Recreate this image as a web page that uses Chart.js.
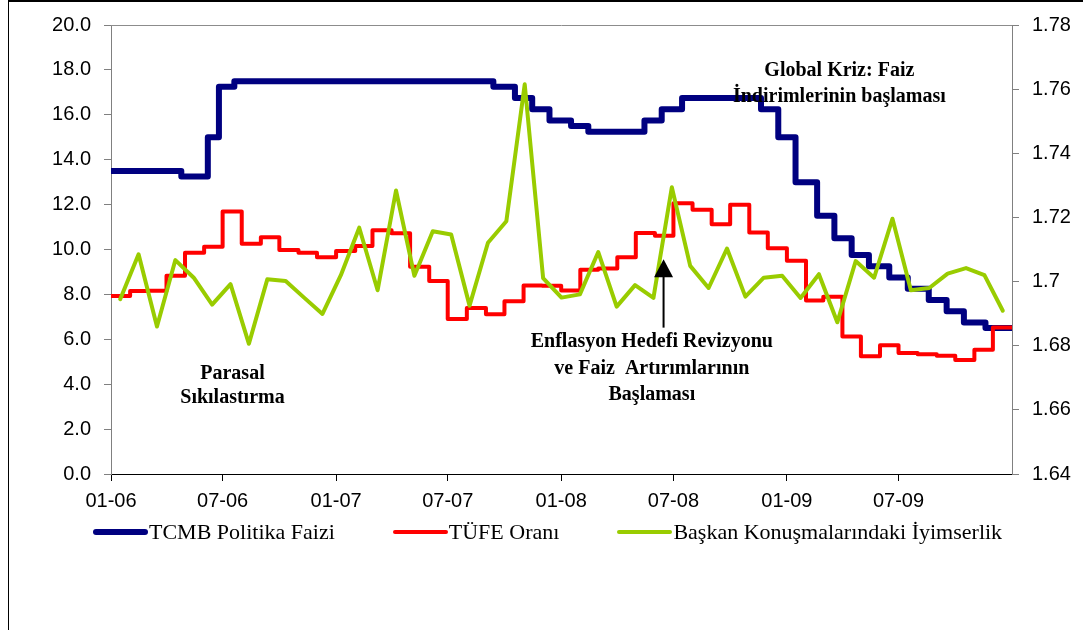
<!DOCTYPE html>
<html>
<head>
<meta charset="utf-8">
<script src="https://cdn.jsdelivr.net/npm/chart.js@4.4.1/dist/chart.umd.min.js"></script>
<style>
  html, body { margin: 0; padding: 0; background: #fff; }
  #wrap { position: relative; width: 1083px; height: 630px; overflow: hidden; }
  #chart { position: absolute; left: 0; top: 0; }
  #frame { position: absolute; left: 8px; top: 0; width: 1075px; height: 630px; box-sizing: border-box;
           border-top: 2px solid #000; border-left: 1px solid #000; pointer-events: none; }
  #legend { position: absolute; left: 93px; top: 519px; display: flex; gap: 58px;
            font-family: "Liberation Serif", "Times New Roman", serif; font-size: 22px; color: #000; }
  .item { display: flex; align-items: center; white-space: nowrap; }
  .swatch { width: 55px; border-radius: 3px; margin-right: 1px; }
</style>
</head>
<body>
<div id="wrap">
  <canvas id="chart" width="1083" height="630"></canvas>
  <div id="legend"></div>
  <div id="frame"></div>
</div>
<script>
// x ekseni gün cinsinden (2006-01-01'den itibaren)
const START = Date.UTC(2006, 0, 1);
const dayOf = d => (Date.parse(d) - START) / 86400000;

const axisEnd = "2010-01-01";
const tickDates = ["2006-01-01", "2006-07-01", "2007-01-01", "2007-07-01",
                   "2008-01-01", "2008-07-01", "2009-01-01", "2009-07-01"];
const tickLabels = ["01-06", "07-06", "01-07", "07-07", "01-08", "07-08", "01-09", "07-09"];

// TCMB politika faizi (karar tarihleri)
const policyDates = ["2006-01-01", "2006-04-25", "2006-06-07", "2006-06-25", "2006-07-20",
  "2007-09-13", "2007-10-18", "2007-11-15", "2007-12-13", "2008-01-17", "2008-02-14",
  "2008-05-15", "2008-06-12", "2008-07-15", "2008-11-20", "2008-12-18", "2009-01-15",
  "2009-02-19", "2009-03-19", "2009-04-16", "2009-05-14", "2009-06-16", "2009-07-16",
  "2009-08-19", "2009-09-17", "2009-10-15", "2009-11-19"];
const policyRates = [13.5, 13.25, 15.0, 17.25, 17.5, 17.25, 16.75, 16.25, 15.75, 15.5, 15.25,
  15.75, 16.25, 16.75, 16.25, 15.0, 13.0, 11.5, 10.5, 9.75, 9.25, 8.75, 8.25, 7.75, 7.25, 6.75, 6.5];

// TÜFE yıllık oran (aylık)
const cpiMonths = [
  "2006-01", "2006-02", "2006-03", "2006-04", "2006-05", "2006-06", "2006-07", "2006-08", "2006-09", "2006-10", "2006-11", "2006-12",
  "2007-01", "2007-02", "2007-03", "2007-04", "2007-05", "2007-06", "2007-07", "2007-08", "2007-09", "2007-10", "2007-11", "2007-12",
  "2008-01", "2008-02", "2008-03", "2008-04", "2008-05", "2008-06", "2008-07", "2008-08", "2008-09", "2008-10", "2008-11", "2008-12",
  "2009-01", "2009-02", "2009-03", "2009-04", "2009-05", "2009-06", "2009-07", "2009-08", "2009-09", "2009-10", "2009-11", "2009-12"];
const cpiRates = [
  7.93, 8.15, 8.16, 8.83, 9.86, 10.12, 11.69, 10.26, 10.55, 9.98, 9.86, 9.65,
  9.93, 10.16, 10.86, 10.72, 9.23, 8.60, 6.90, 7.39, 7.12, 7.70, 8.40, 8.39,
  8.17, 9.10, 9.15, 9.66, 10.74, 10.61, 12.06, 11.77, 11.13, 11.99, 10.76, 10.06,
  9.50, 7.73, 7.89, 6.13, 5.24, 5.73, 5.39, 5.33, 5.27, 5.08, 5.53, 6.53];

// Başkan konuşmalarındaki iyimserlik (sağ eksen, 49 gözlem)
const optimism = [
  1.6945, 1.7085, 1.6860, 1.7067, 1.7012, 1.6928, 1.6992, 1.6806, 1.7007, 1.7002, 1.6950, 1.6899,
  1.7020, 1.7168, 1.6973, 1.7284, 1.7018, 1.7157, 1.7147, 1.6925, 1.7121, 1.7188, 1.7615, 1.7011,
  1.6950, 1.6960, 1.7092, 1.6922, 1.6989, 1.6949, 1.7294, 1.7049, 1.6980, 1.7103, 1.6953, 1.7012,
  1.7018, 1.6949, 1.7023, 1.6873, 1.7064, 1.7012, 1.7196, 1.6973, 1.6980, 1.7025, 1.7042, 1.7020,
  1.6909];
const optimismSlots = optimism.map((_, i) => String(i + 1));

const seriesNames = ["TCMB Politika Faizi", "TÜFE Oranı", "Başkan Konuşmalarındaki İyimserlik"];
const seriesColors = ["#000080", "#FF0000", "#99CC00"];

// grafik üzerindeki notlar
const notes = [
  { lines: ["Global Kriz: Faiz", "İndirimlerinin başlaması"], date: "2009-03-27", value: 17.96, gap: 26 },
  { lines: ["Parasal", "Sıkılastırma"], date: "2006-07-17", value: 4.46, gap: 24 },
  { lines: ["Enflasyon Hedefi Revizyonu", "ve Faiz  Artırımlarının", "Başlaması"], date: "2008-05-27", value: 5.88, gap: 26.5 }
];
const arrow = { date: "2008-06-15", from: 6.52, to: 9.57 };

const stepPoints = (dates, vals) => {
  const pts = dates.map((d, i) => ({ x: dayOf(d), y: vals[i] }));
  pts.push({ x: dayOf(axisEnd), y: vals[vals.length - 1] });
  return pts;
};

const notesPlugin = {
  id: "notes",
  beforeDatasetsDraw(chart) {
    const { ctx, chartArea } = chart;
    ctx.save();
    ctx.strokeStyle = "#8c8c8c";
    ctx.lineWidth = 1;
    ctx.beginPath();
    ctx.moveTo(chartArea.left, chartArea.top + 0.5);
    ctx.lineTo(chartArea.right, chartArea.top + 0.5);
    ctx.stroke();
    ctx.restore();
  },
  afterDatasetsDraw(chart) {
    const { ctx } = chart;
    const x = chart.scales.x, y = chart.scales.y;
    ctx.save();
    ctx.fillStyle = "#000";
    ctx.font = 'bold 20px "Liberation Serif", "Times New Roman", serif';
    ctx.textAlign = "center";
    ctx.textBaseline = "middle";
    notes.forEach(n => {
      const px = x.getPixelForValue(dayOf(n.date));
      const py = y.getPixelForValue(n.value);
      n.lines.forEach((t, i) => ctx.fillText(t, px, py + i * n.gap));
    });

    const ax = x.getPixelForValue(dayOf(arrow.date));
    const y0 = y.getPixelForValue(arrow.from);
    const y1 = y.getPixelForValue(arrow.to);
    ctx.strokeStyle = "#000";
    ctx.lineWidth = 2;
    ctx.beginPath();
    ctx.moveTo(ax, y0);
    ctx.lineTo(ax, y1 + 16);
    ctx.stroke();
    ctx.beginPath();
    ctx.moveTo(ax, y1);
    ctx.lineTo(ax - 9.5, y1 + 18);
    ctx.lineTo(ax + 9.5, y1 + 18);
    ctx.closePath();
    ctx.fill();
    ctx.restore();
  }
};

const tickFont = { family: '"Liberation Sans", Arial, sans-serif', size: 20 };

const chart = new Chart(document.getElementById("chart"), {
  type: "line",
  data: {
    datasets: [
      {
        label: seriesNames[0],
        data: stepPoints(policyDates, policyRates),
        borderColor: seriesColors[0],
        borderWidth: 6,
        stepped: true,
        xAxisID: "x", yAxisID: "y",
        order: 3
      },
      {
        label: seriesNames[1],
        data: stepPoints(cpiMonths, cpiRates),
        borderColor: seriesColors[1],
        borderWidth: 4,
        stepped: true,
        xAxisID: "x", yAxisID: "y",
        order: 2
      },
      {
        label: seriesNames[2],
        data: optimism,
        borderColor: seriesColors[2],
        borderWidth: 4,
        tension: 0,
        xAxisID: "x2", yAxisID: "y2",
        order: 1
      }
    ]
  },
  options: {
    responsive: false,
    animation: false,
    events: [],
    layout: { padding: { top: 23, bottom: 110, left: 0, right: 0 } },
    elements: {
      point: { radius: 0 },
      line: { borderJoinStyle: "round", borderCapStyle: "round", fill: false }
    },
    plugins: {
      legend: { display: false },
      tooltip: { enabled: false }
    },
    scales: {
      x: {
        type: "linear",
        min: 0,
        max: dayOf(axisEnd),
        afterBuildTicks: s => { s.ticks = tickDates.map(d => ({ value: dayOf(d) })); },
        afterFit: s => { s.height = 46; },
        ticks: {
          autoSkip: false,
          maxRotation: 0,
          padding: 8,
          color: "#000",
          font: tickFont,
          callback: (v, i) => tickLabels[i]
        },
        grid: { drawOnChartArea: false, drawTicks: true, tickLength: 7, color: "#000" },
        border: { color: "#000", width: 1 }
      },
      x2: {
        type: "category",
        labels: optimismSlots,
        offset: true,
        display: false
      },
      y: {
        position: "left",
        min: 0,
        max: 20,
        afterFit: s => { s.width = 111; },
        ticks: {
          stepSize: 2,
          padding: 13,
          color: "#000",
          font: tickFont,
          callback: v => v.toFixed(1)
        },
        grid: { drawOnChartArea: false, drawTicks: true, tickLength: 7, color: "#808080" },
        border: { color: "#808080", width: 1 }
      },
      y2: {
        position: "right",
        min: 1.64,
        max: 1.78,
        afterFit: s => { s.width = 71; },
        ticks: {
          stepSize: 0.02,
          padding: 13,
          color: "#000",
          font: tickFont,
          callback: v => String(+v.toFixed(2))
        },
        grid: { drawOnChartArea: false, drawTicks: true, tickLength: 7, color: "#808080" },
        border: { color: "#808080", width: 1 }
      }
    }
  },
  plugins: [notesPlugin]
});

// HTML lejant, veri setlerinden
const legendEl = document.getElementById("legend");
chart.data.datasets.forEach(ds => {
  const item = document.createElement("div");
  item.className = "item";
  const sw = document.createElement("span");
  sw.className = "swatch";
  sw.style.background = ds.borderColor;
  sw.style.height = Math.min(ds.borderWidth, 6) + "px";
  const txt = document.createElement("span");
  txt.textContent = ds.label;
  item.appendChild(sw);
  item.appendChild(txt);
  legendEl.appendChild(item);
});
</script>
</body>
</html>
